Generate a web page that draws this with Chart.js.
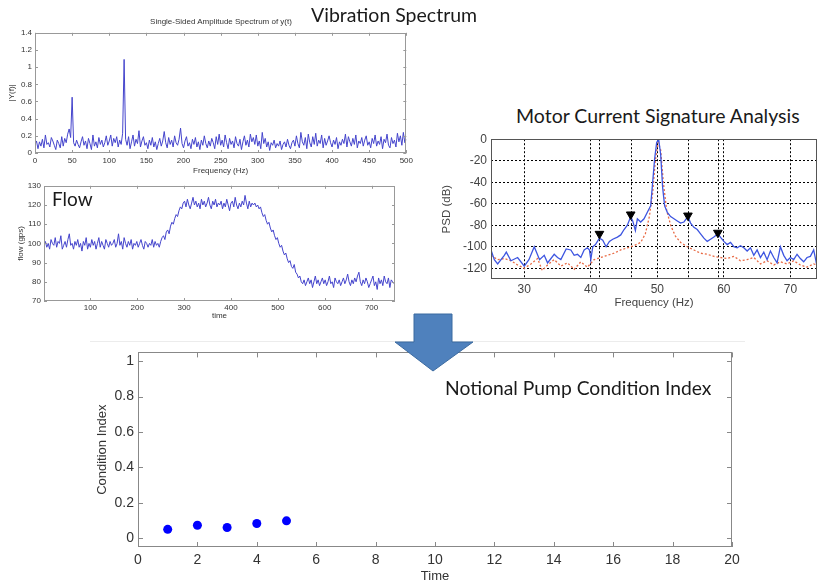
<!DOCTYPE html>
<html>
<head>
<meta charset="utf-8">
<script src="https://cdn.jsdelivr.net/npm/chart.js@4.4.1/dist/chart.umd.min.js"></script>
<style>
  html, body { margin: 0; padding: 0; background: #fff; overflow: hidden; }
  #page { position: relative; width: 823px; height: 580px; }
  canvas { position: absolute; }
  .cap { position: absolute; white-space: nowrap; line-height: 1; font-family: Lato, 'Open Sans', sans-serif; color: #1a1a1a; }
  .ttl { position: absolute; white-space: nowrap; line-height: 1; font-family: 'Liberation Sans', Arial, sans-serif; color: #333; transform: translateX(-50%); }
  #rule { position: absolute; left: 90px; top: 341px; width: 655px; height: 1px; background: #ececec; }
  #arrow { position: absolute; left: 0; top: 0; }
</style>
</head>
<body>
<div id="page">
  <div id="rule"></div>
  <canvas id="vib" width="416" height="155" style="left:0;top:25px"></canvas>
  <canvas id="flow" width="405" height="145" style="left:0;top:178px"></canvas>
  <canvas id="mcsa" width="393" height="185" style="left:430px;top:128px"></canvas>
  <canvas id="cond" width="670" height="244" style="left:80px;top:340px"></canvas>

  <div class="ttl" style="left:221px;top:18px;font-size:8px">Single-Sided Amplitude Spectrum of y(t)</div>
  <div class="cap" style="left:311px;top:5px;font-size:19.5px">Vibration Spectrum</div>
  <div class="cap" style="left:52px;top:189px;font-size:19px">Flow</div>
  <div class="cap" style="left:516px;top:106px;font-size:19.5px">Motor Current Signature Analysis</div>
  <div class="cap" style="left:445px;top:378px;font-size:19.3px">Notional Pump Condition Index</div>

  <svg id="arrow" width="823" height="580">
    <polygon points="414,314 452,314 452,342 473,342 433,371 395,342 414,342"
             fill="#4f81bd" stroke="#3b6aa0" stroke-width="1"/>
  </svg>
</div>

<script>
'use strict';

/* ── data ── */

// vibration spectrum, one value every 2 Hz from 0 to 500
const vibStepHz = 2;
const vibAmp = [
  0.10,0.14,0.05,0.13,0.08,0.16,0.06,0.21,0.10,0.12,0.07,0.18,0.14,0.09,0.04,0.15,0.11,0.06,0.19,0.08,0.17,0.12,0.22,0.28,0.18,
  0.65,
  0.12,0.08,0.15,0.10,0.06,0.13,0.19,0.09,0.14,0.05,0.17,0.11,0.04,0.21,0.08,0.13,0.06,0.18,0.10,0.15,0.07,0.12,0.20,0.09,
  0.14,0.21,0.08,0.17,0.12,0.19,0.07,0.15,0.10,0.23,
  1.09,
  0.16,0.09,0.19,0.05,0.13,0.21,0.08,0.16,0.11,0.26,0.07,0.14,0.19,0.09,
  0.12,0.05,0.15,0.09,0.18,0.07,0.13,0.04,0.11,0.17,0.08,0.14,0.25,0.12,0.06,0.18,0.10,0.15,0.07,0.20,0.12,0.09,0.16,0.29,0.11,
  0.06,0.14,0.19,0.08,0.12,0.05,0.16,0.10,0.18,0.07,0.13,0.04,0.15,0.09,0.20,0.11,0.06,0.14,0.08,0.17,0.12,0.05,0.19,0.10,0.22,
  0.09,0.15,0.07,0.21,0.12,0.05,0.17,0.10,0.14,0.06,0.19,0.11,0.08,0.16,0.04,0.13,0.20,0.09,0.15,0.07,0.22,0.13,0.18,0.10,0.21,
  0.08,0.14,0.05,0.24,0.11,0.17,0.07,0.13,0.03,0.12,0.09,0.15,0.06,0.11,0.08,0.14,0.04,0.10,0.13,0.07,0.16,0.09,0.05,0.12,0.15,
  0.08,0.20,0.11,0.06,0.24,0.13,0.09,0.18,0.05,0.22,0.12,0.07,0.19,0.10,0.23,0.08,0.15,0.11,0.21,0.06,0.17,0.09,0.14,0.20,0.12,
  0.07,0.15,0.10,0.18,0.05,0.13,0.09,0.16,0.11,0.22,0.07,0.19,0.13,0.08,0.17,0.10,0.21,0.06,0.14,0.11,0.18,0.08,0.15,0.20,0.09,
  0.13,0.06,0.17,0.11,0.21,0.08,0.14,0.10,0.19,0.05,0.16,0.12,0.22,0.09,0.06,0.18,0.11,0.15,0.07,0.23,0.13,0.20,0.09,0.24,0.12,0.16
];
const vibHzTicks  = [0,50,100,150,200,250,300,350,400,450,500];
const vibAmpTicks = [0,0.2,0.4,0.6,0.8,1,1.2,1.4];

// flow, one value every 3 time steps starting at 1
const flowStart = 1, flowStep = 3;
const flowGps = [
  99,101,98,100,97,102,100,99,103,98,101,100,104,97,99,101,98,102,105,99,100,97,101,99,102,
  98,100,96,101,99,103,97,100,98,102,99,101,97,100,103,98,101,99,97,102,100,98,101,99,100,
  102,98,100,105,99,101,97,103,100,98,101,99,102,97,100,99,101,98,100,102,99,97,101,100,98,
  100,99,102,98,101,99,100,98,101,103,104,102,106,107,105,109,111,110,113,115,114,117,119,118,121,
  122,119,123,120,118,121,124,120,122,119,121,118,123,120,122,119,121,124,120,118,122,120,123,119,121,
  120,122,118,121,119,123,120,117,121,122,119,124,120,118,121,119,122,120,125,121,118,122,119,121,120,
  121,119,120,118,119,116,114,115,112,110,111,108,106,107,104,102,103,100,98,99,96,94,95,92,90,
  91,88,87,89,85,84,82,83,80,79,81,78,80,82,79,81,77,80,83,79,81,78,80,82,79,
  81,78,80,83,79,80,77,82,80,79,81,78,80,82,79,81,84,80,78,81,79,82,80,83,85,
  80,78,81,79,82,80,77,79,81,83,78,80,76,82,79,81,78,83,80,79,82,77,81,80,79
];
const flowTimeTicks = [100,200,300,400,500,600,700];
const flowGpsTicks  = [70,80,90,100,110,120,130];

// motor current signature
const blueHz = [25,25.5,26,27,27.3,28,29,30,30.7,31.5,32.3,33,33.5,34.5,35,35.5,36.3,37,37.5,38,
  38.5,39,39.5,39.8,40,40.3,40.7,41.3,41.8,42.3,42.8,43.3,44,44.5,45,45.5,46,46.3,46.7,47,
  47.5,48,48.5,49,49.3,49.6,49.9,50.2,50.5,50.8,51.1,51.5,52,52.5,53,53.5,54,54.6,55,55.5,
  56,56.5,57,57.5,58,58.5,59.1,59.6,60,60.5,61,61.5,62,62.5,63,63.5,64,64.5,65,65.5,
  66,66.5,67,67.5,68,68.5,69,69.5,70,70.5,71,71.5,72,72.5,73,73.5,74];
const blueDb = [-103,-112,-116,-108,-105,-113,-110,-118,-112,-100,-112,-108,-115,-107,-110,-112,-102,-103,-108,-107,
  -110,-103,-101,-103,-112,-100,-98,-92,-94,-100,-95,-93,-91,-89,-84,-80,-72,-76,-85,-74,
  -77,-74,-68,-62,-40,-18,-3,0,-14,-45,-62,-68,-72,-74,-76,-78,-77,-72,-78,-82,
  -84,-88,-92,-95,-93,-91,-88,-92,-95,-98,-96,-100,-101,-99,-101,-104,-101,-108,-103,-110,
  -105,-112,-104,-110,-115,-100,-108,-113,-110,-112,-107,-111,-114,-110,-109,-103,-118];
const redHz = [25,26,27,28,29,30,31,32,32.7,33.5,34.5,35.5,36.5,37.5,38.5,39.5,40.5,41.5,42.5,43.5,
  44.5,45.5,46.5,47.5,48.2,48.8,49.3,49.7,50.1,50.5,50.9,51.4,52,52.7,53.5,54.5,55.5,56.5,57.5,58.5,
  59.5,60.5,61.5,62.5,63.5,64.5,65.5,66.5,67.5,68.5,69.5,70.5,71.5,72.5,73.5,74];
const redDb = [-108,-112,-111,-113,-117,-120,-116,-111,-122,-117,-112,-118,-115,-121,-114,-119,-112,-110,-108,-106,
  -103,-101,-99,-96,-88,-72,-50,-20,-3,-10,-40,-66,-80,-90,-96,-100,-103,-106,-107,-109,
  -110,-111,-109,-113,-112,-110,-116,-113,-117,-114,-116,-113,-117,-119,-116,-117];
const markHz = [41.3,46,54.6,59.1];
const markDb = [-88,-70,-71,-87];
const psdHzTicks = [30,40,50,60,70];
const psdDbTicks = [0,-20,-40,-60,-80,-100,-120];

// condition index
const condTime  = [1,2,3,4,5];
const condIndex = [0.05,0.073,0.06,0.083,0.098];
const condTimeTicks  = [0,2,4,6,8,10,12,14,16,18,20];
const condIndexTicks = [0,0.2,0.4,0.6,0.8,1];

/* ── helpers ── */
const xy = (xs, ys) => ys.map((v, i) => ({ x: xs[i], y: v }));
const fixedTicks = vals => s => { s.ticks = vals.map(v => ({ value: v })); };
const num = v => String(+(+v).toFixed(2));

// box round the plot, with MATLAB style inward ticks on all four sides
const frame = {
  id: 'frame',
  defaults: { color: '#999', tick: 4 },
  afterDatasetsDraw(chart, args, o) {
    const { ctx, chartArea: a, scales: { x, y } } = chart;
    ctx.save();
    ctx.strokeStyle = o.color;
    ctx.lineWidth = 1;
    ctx.beginPath();
    if (o.tick) {
      x.ticks.forEach(t => {
        const px = Math.round(x.getPixelForValue(t.value)) + 0.5;
        ctx.moveTo(px, a.bottom); ctx.lineTo(px, a.bottom - o.tick);
        ctx.moveTo(px, a.top);    ctx.lineTo(px, a.top + o.tick);
      });
      y.ticks.forEach(t => {
        const py = Math.round(y.getPixelForValue(t.value)) + 0.5;
        ctx.moveTo(a.left, py);  ctx.lineTo(a.left + o.tick, py);
        ctx.moveTo(a.right, py); ctx.lineTo(a.right - o.tick, py);
      });
    }
    ctx.stroke();
    ctx.strokeRect(Math.round(a.left) + 0.5, Math.round(a.top) + 0.5, Math.round(a.width) - 1, Math.round(a.height) - 1);
    ctx.restore();
  }
};

// extra dotted verticals at the marked sidebands
const markLines = {
  id: 'markLines',
  beforeDatasetsDraw(chart, args, o) {
    if (!o.values) return;
    const { ctx, chartArea: a, scales: { x } } = chart;
    ctx.save();
    ctx.strokeStyle = '#000';
    ctx.lineWidth = 1;
    ctx.setLineDash([2, 2]);
    ctx.beginPath();
    o.values.forEach(v => {
      const px = Math.round(x.getPixelForValue(v)) + 0.5;
      ctx.moveTo(px, a.top); ctx.lineTo(px, a.bottom);
    });
    ctx.stroke();
    ctx.restore();
  }
};

Chart.register(frame, markLines);
Chart.defaults.font.family = "'Liberation Sans', Arial, sans-serif";
Chart.defaults.color = '#333';

const BASE = {
  responsive: false, animation: false, devicePixelRatio: 1, events: [],
  plugins: { legend: { display: false }, tooltip: { enabled: false } }
};
const NOGRID = { grid: { display: false, drawTicks: false }, border: { display: false } };

/* ── vibration spectrum ── */
new Chart(document.getElementById('vib'), {
  type: 'line',
  data: { datasets: [{ data: vibAmp.map((v, i) => ({ x: i * vibStepHz, y: v })),
    borderColor: '#4444cc', borderWidth: 1, pointRadius: 0 }] },
  options: { ...BASE,
    layout: { padding: { top: 7, right: 9, left: 0, bottom: 0 } },
    plugins: { ...BASE.plugins, frame: { color: '#999', tick: 3 } },
    scales: {
      x: { type: 'linear', min: 0, max: 500, ...NOGRID,
        afterBuildTicks: fixedTicks(vibHzTicks), afterFit: s => { s.height = 27; },
        ticks: { padding: 3, font: { size: 8 }, autoSkip: false, maxRotation: 0, callback: num },
        title: { display: true, text: 'Frequency (Hz)', font: { size: 8 }, padding: { top: 0, bottom: 4 } } },
      y: { type: 'linear', min: 0, max: 1.4, ...NOGRID,
        afterBuildTicks: fixedTicks(vibAmpTicks), afterFit: s => { s.width = 35; },
        ticks: { padding: 3, font: { size: 8 }, autoSkip: false, callback: num },
        title: { display: true, text: '|Y(f)|', font: { size: 8 }, padding: { top: 7, bottom: 0 } } }
    }
  }
});

/* ── flow ── */
new Chart(document.getElementById('flow'), {
  type: 'line',
  data: { datasets: [{ data: flowGps.map((v, i) => ({ x: flowStart + i * flowStep, y: v })),
    borderColor: '#4444cc', borderWidth: 1, pointRadius: 0 }] },
  options: { ...BASE,
    layout: { padding: { top: 6, right: 10, left: 0, bottom: 0 } },
    plugins: { ...BASE.plugins, frame: { color: '#999', tick: 3 } },
    scales: {
      x: { type: 'linear', min: 1, max: 750, ...NOGRID,
        afterBuildTicks: fixedTicks(flowTimeTicks), afterFit: s => { s.height = 22; },
        ticks: { padding: 2, font: { size: 8 }, autoSkip: false, maxRotation: 0, callback: num },
        title: { display: true, text: 'time', font: { size: 8 }, padding: { top: 0, bottom: 2 } } },
      y: { type: 'linear', min: 70, max: 130, ...NOGRID,
        afterBuildTicks: fixedTicks(flowGpsTicks), afterFit: s => { s.width = 44; },
        ticks: { padding: 3, font: { size: 8 }, autoSkip: false, callback: num },
        title: { display: true, text: 'flow (gps)', font: { size: 8 }, padding: { top: 16, bottom: 0 } } }
    }
  }
});

/* ── motor current signature analysis ── */
new Chart(document.getElementById('mcsa'), {
  type: 'line',
  data: { datasets: [
    { data: xy(markHz, markDb), showLine: false, pointStyle: 'triangle', rotation: 180,
      pointRadius: 5, backgroundColor: '#000', borderColor: '#000', borderWidth: 1 },
    { data: xy(blueHz, blueDb), borderColor: '#3d55e0', borderWidth: 1.3, pointRadius: 0 },
    { data: xy(redHz, redDb), borderColor: '#e86a44', borderWidth: 1.3, borderDash: [2, 2], pointRadius: 0 }
  ] },
  options: { ...BASE,
    layout: { padding: { top: 7, right: 0, left: 0, bottom: 0 } },
    plugins: { ...BASE.plugins, frame: { color: '#555', tick: 0 }, markLines: { values: markHz } },
    scales: {
      x: { type: 'linear', min: 25, max: 74,
        grid: { color: '#000', drawTicks: false }, border: { display: false, dash: [2, 2] },
        afterBuildTicks: fixedTicks(psdHzTicks), afterFit: s => { s.height = 34; },
        ticks: { padding: 3, font: { size: 12 }, color: '#444', autoSkip: false, maxRotation: 0, callback: num },
        title: { display: true, text: 'Frequency (Hz)', font: { size: 11.5 }, color: '#444', padding: { top: 0, bottom: 3 } } },
      y: { type: 'linear', min: -130, max: 0,
        grid: { color: '#000', drawTicks: false }, border: { display: false, dash: [2, 2] },
        afterBuildTicks: fixedTicks(psdDbTicks), afterFit: s => { s.width = 61; },
        ticks: { padding: 4, font: { size: 12 }, color: '#444', autoSkip: false, callback: num },
        title: { display: true, text: 'PSD (dB)', font: { size: 11.5 }, color: '#444', padding: { top: 10, bottom: 0 } } }
    }
  }
});

/* ── condition index ── */
new Chart(document.getElementById('cond'), {
  type: 'scatter',
  data: { datasets: [{ data: xy(condTime, condIndex), pointRadius: 4.5,
    backgroundColor: '#0000ff', borderColor: '#0000ff', borderWidth: 0 }] },
  options: { ...BASE,
    layout: { padding: { top: 12, right: 18, left: 0, bottom: 0 } },
    plugins: { ...BASE.plugins, frame: { color: '#888', tick: 5 } },
    scales: {
      x: { type: 'linear', min: 0, max: 20, ...NOGRID,
        afterBuildTicks: fixedTicks(condTimeTicks), afterFit: s => { s.height = 37; },
        ticks: { padding: 5, font: { size: 14 }, autoSkip: false, maxRotation: 0, callback: num },
        title: { display: true, text: 'Time', font: { size: 13 }, padding: { top: 0, bottom: 0 } } },
      y: { type: 'linear', min: -0.05, max: 1.05, ...NOGRID,
        afterBuildTicks: fixedTicks(condIndexTicks), afterFit: s => { s.width = 58; },
        ticks: { padding: 4, font: { size: 14 }, autoSkip: false, callback: num },
        title: { display: true, text: 'Condition Index', font: { size: 13 }, padding: { top: 15, bottom: 0 } } }
    }
  }
});
</script>
</body>
</html>
